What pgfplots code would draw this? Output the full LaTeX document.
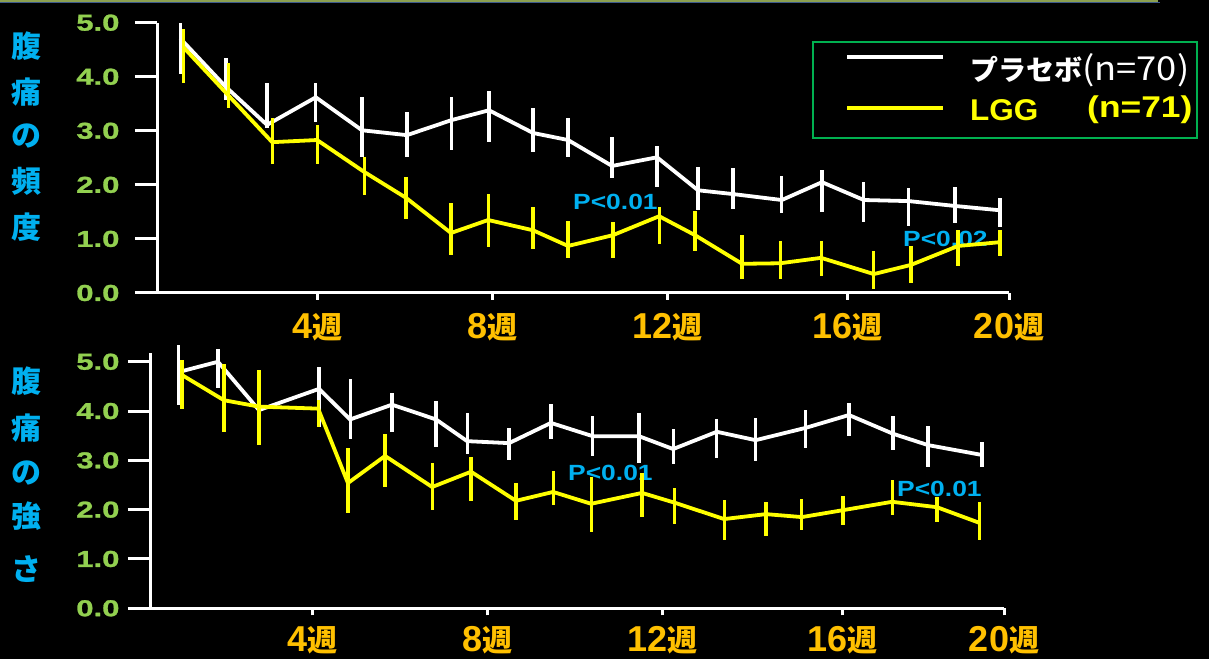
\documentclass[border=0pt]{standalone}
\usepackage{fontspec}
\setmainfont{Liberation Sans}
\newfontfamily\jp{Noto Sans CJK JP}
\newfontfamily\jpn{Noto Sans CJK JP}[FakeStretch=1.1]
\newfontfamily\ylabfont{Liberation Sans Bold}[FakeStretch=1.35, FakeBold=1.2]
\newfontfamily\pfont{Liberation Sans Bold}[FakeStretch=1.2]
\newfontfamily\lgfont{Liberation Sans Bold}[FakeStretch=1.05]
\newfontfamily\nfont{Liberation Sans Bold}[FakeStretch=1.18]
\usepackage{pgfplots}
\pgfplotsset{compat=1.18}
\usepackage{pgfplotstable}

\definecolor{tickgreen}{RGB}{146,208,80}
\definecolor{labelcyan}{RGB}{0,176,240}
\definecolor{weekgold}{RGB}{255,192,0}
\definecolor{lggyellow}{RGB}{255,255,0}
\definecolor{boxgreen}{RGB}{0,176,80}
\definecolor{stripolive}{RGB}{140,160,80}
\definecolor{stripblue}{RGB}{60,90,140}

\newcommand\wk[1]{{\fontsize{36}{36}\selectfont\bfseries #1}{\jp\bfseries\fontsize{30}{30}\selectfont 週}}

% week, mean score, error above, error below
\pgfplotstableread{
x y ep em
0.81 4.71 0.28 0.65
1.87 3.81 0.54 0.24
2.82 3.11 0.78 0.05
3.95 3.62 0.26 0.46
5.02 3.01 0.61 0.50
6.06 2.92 0.43 0.41
7.10 3.20 0.43 0.55
7.96 3.38 0.35 0.59
8.98 2.96 0.46 0.35
9.79 2.83 0.41 0.31
10.81 2.35 0.54 0.22
11.85 2.51 0.20 0.54
12.80 1.90 0.43 0.37
13.61 1.83 0.48 0.28
14.74 1.72 0.44 0.24
15.67 2.05 0.22 0.55
16.64 1.72 0.33 0.41
17.68 1.70 0.24 0.46
18.75 1.61 0.35 0.31
19.79 1.53 0.22 0.31
}\freqplacebo

\pgfplotstableread{
x y ep em
0.88 4.55 0.33 0.67
1.92 3.66 0.59 0.24
2.94 2.79 0.44 0.41
3.98 2.83 0.28 0.44
5.07 2.24 0.28 0.43
6.04 1.76 0.39 0.39
7.08 1.11 0.55 0.41
7.94 1.35 0.48 0.50
8.98 1.16 0.43 0.35
9.79 0.87 0.46 0.22
10.83 1.07 0.24 0.43
11.90 1.42 0.17 0.52
12.73 1.07 0.44 0.30
13.82 0.54 0.54 0.28
14.70 0.55 0.41 0.30
15.65 0.65 0.31 0.33
16.87 0.35 0.43 0.28
17.73 0.52 0.35 0.33
18.82 0.87 0.30 0.37
19.79 0.94 0.22 0.26
}\freqlgg

\pgfplotstableread{
x y ep em
0.88 4.79 0.55 0.67
1.80 5.00 0.26 0.53
2.75 4.02 0.35 0.35
4.14 4.45 0.45 0.77
4.86 3.83 0.83 0.39
5.83 4.13 0.24 0.55
6.85 3.83 0.37 0.55
7.57 3.39 0.57 0.26
8.54 3.35 0.30 0.35
9.51 3.76 0.39 0.32
10.48 3.49 0.41 0.41
11.55 3.49 0.47 0.55
12.34 3.23 0.41 0.30
13.35 3.58 0.26 0.53
14.25 3.41 0.45 0.43
15.41 3.66 0.37 0.41
16.41 3.92 0.24 0.43
17.43 3.54 0.37 0.32
18.24 3.31 0.39 0.45
19.49 3.11 0.26 0.24
}\sevplacebo

\pgfplotstableread{
x y ep em
0.97 4.73 0.30 0.69
1.94 4.22 0.73 0.65
2.75 4.09 0.75 0.77
4.12 4.05 0.18 0.37
4.81 2.54 0.71 0.61
5.67 3.09 0.45 0.63
6.76 2.46 0.49 0.47
7.66 2.77 0.30 0.59
8.70 2.18 0.37 0.39
9.56 2.36 0.43 0.26
10.44 2.12 0.55 0.57
11.62 2.34 0.41 0.49
12.38 2.14 0.30 0.43
13.52 1.81 0.39 0.43
14.49 1.91 0.24 0.45
15.32 1.85 0.37 0.26
16.27 1.99 0.28 0.30
17.41 2.16 0.45 0.26
18.45 2.05 0.20 0.30
19.44 1.73 0.43 0.35
}\sevlgg

\pgfplotsset{
  panel/.style={
    scale only axis,
    anchor=south west,
    axis x line*=bottom,
    axis y line*=left,
    axis line style={white, line width=3pt, -},
    xmax=20, ymin=0,
    ytick={0,1,2,3,4,5},
    yticklabels={0.0,1.0,2.0,3.0,4.0,5.0},
    xtick={4,8.03,12.1,16.25,20},
    xticklabels={\wk{4},\wk{8},\wk{12},\wk{16},\wk{20}},
    tick align=outside,
    major tick length=22pt,
    xtick style={/pgfplots/major tick length=7pt},
    tick style={white, line width=3pt},
    yticklabel style={text=tickgreen, font=\ylabfont\fontsize{23}{23}\selectfont, anchor=east},
    xticklabel style={text=weekgold, anchor=north, yshift=5pt},
    clip=false,
  },
  series/.style={color=#1, line width=3.8pt, mark=none,
    error bars/y dir=both, error bars/y explicit, error bars/error mark=none,
    error bars/error bar style={color=#1, line width=3.2pt}},
}

\begin{document}
\begin{tikzpicture}
\fill[black] (0,0) rectangle (1209pt,659pt);
\fill[stripolive] (0,657.4pt) rectangle (1158pt,659pt);
\fill[stripblue] (0,656.4pt) rectangle (1160pt,657.4pt);

% vertical axis titles
\foreach \c/\y in {腹/46,痛/92,の/136,頻/181,度/227}
  \node[text=labelcyan, font=\jp\bfseries\fontsize{30}{30}\selectfont, inner sep=0] at (26pt,{(659-\y)*1pt}) {\c};
\foreach \c/\y in {腹/381,痛/428,の/473,強/516,さ/569}
  \node[text=labelcyan, font=\jp\bfseries\fontsize{30}{30}\selectfont, inner sep=0] at (26pt,{(659-\y)*1pt}) {\c};

% significance notes (under the curves)
\begin{scope}[every node/.style={anchor=west, inner sep=0, text=labelcyan, font=\pfont\fontsize{22}{22}\selectfont}]
\node at (573pt,457pt) {P<0.01};
\node at (903pt,420pt) {P<0.02};
\node at (568pt,186pt) {P<0.01};
\node at (897pt,170pt) {P<0.01};
\end{scope}

% frequency of abdominal pain
\begin{axis}[panel, at={(157pt,366pt)}, width=852pt, height=270.3pt, xmin=0.273, ymax=5,
  yticklabel style={xshift=-12pt}]
\addplot[series=white] table[x=x, y=y, y error plus=ep, y error minus=em] {\freqplacebo};
\addplot[series=lggyellow] table[x=x, y=y, y error plus=ep, y error minus=em] {\freqlgg};
\end{axis}

% severity of abdominal pain
\begin{axis}[panel, at={(150pt,50.7pt)}, width=854pt, height=255.4pt, xmin=0.227, ymax=5.18,
  yticklabel style={xshift=-5pt}, xticklabel style={yshift=2pt}]
\addplot[series=white] table[x=x, y=y, y error plus=ep, y error minus=em] {\sevplacebo};
\addplot[series=lggyellow] table[x=x, y=y, y error plus=ep, y error minus=em] {\sevlgg};
\end{axis}

% legend
\draw[boxgreen, line width=2.5pt] (813pt,521pt) rectangle (1197pt,617pt);
\draw[white, line width=4pt] (847pt,602pt) -- (943pt,602pt);
\draw[lggyellow, line width=4pt] (847pt,551pt) -- (943pt,551pt);
\node[anchor=west, inner sep=0, text=white] at (970pt,589pt)
  {{\jp\bfseries\fontsize{28}{28}\selectfont プラセボ}{\jpn\fontsize{33}{33}\selectfont (n=70)}};
\node[anchor=west, inner sep=0, text=lggyellow, font=\lgfont\fontsize{30}{30}\selectfont] at (970pt,549pt) {LGG};
\node[anchor=west, inner sep=0, text=lggyellow, font=\nfont\fontsize{30}{30}\selectfont] at (1087pt,549pt) {(n=71)};

\pgfresetboundingbox
\path[use as bounding box] (0,0) rectangle (1209pt,659pt);
\end{tikzpicture}
\end{document}
